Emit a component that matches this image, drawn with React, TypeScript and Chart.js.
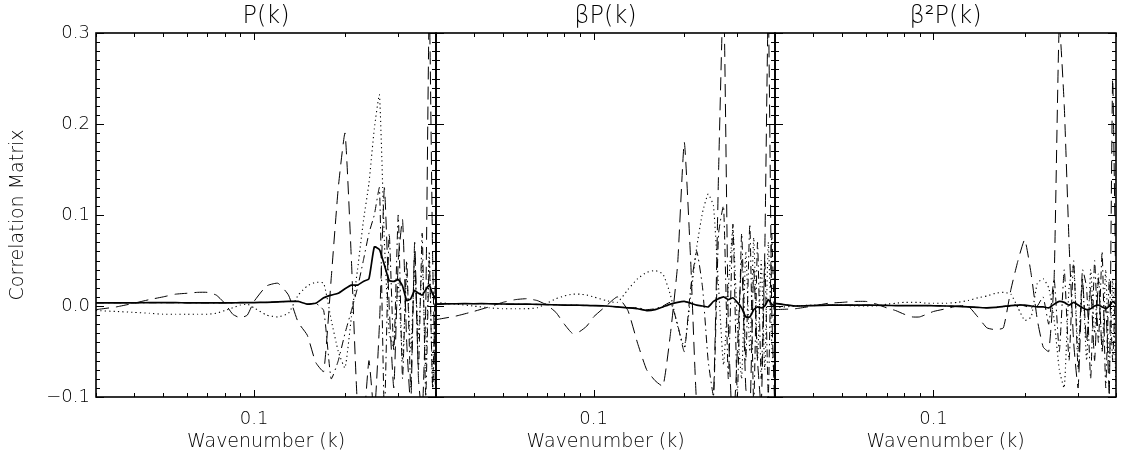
import React, { useEffect, useRef } from 'react';
import { Chart, registerables } from 'chart.js';

Chart.register(...registerables);

// Wavenumber grid (k)
const K = [0.030, 0.035, 0.040, 0.045, 0.050, 0.055, 0.060, 0.065, 0.070, 0.075, 0.080, 0.085, 0.090, 0.095, 0.100,
  0.110, 0.120, 0.130, 0.140, 0.150, 0.160, 0.170, 0.180, 0.190, 0.200, 0.210, 0.220, 0.230, 0.240, 0.250,
  0.260, 0.270, 0.280, 0.290, 0.300, 0.310, 0.320, 0.330, 0.340, 0.350, 0.360, 0.370, 0.380, 0.390, 0.400];

// Panel 1: P(k)
const P_SOLID = [0.0035, 0.0035, 0.0035, 0.0036, 0.0036, 0.0036, 0.0035, 0.0035, 0.0034, 0.0034, 0.0034, 0.0035, 0.0036, 0.0037, 0.0038,
  0.004, 0.0045, 0.005, 0.005, 0.002, 0.003, 0.009, 0.012, 0.014, 0.019, 0.023, 0.023, 0.027, 0.030, 0.065,
  0.062, 0.045, 0.028, 0.027, 0.029, 0.022, 0.006, 0.008, 0.017, 0.014, 0.012, 0.018, 0.023, 0.013, 0.008];
const P_DOT = [-0.005, -0.006, -0.007, -0.008, -0.009, -0.009, -0.009, -0.009, -0.009, -0.008, -0.005, -0.002, 0.001, 0.002, -0.002,
  -0.010, -0.012, -0.008, 0.012, 0.022, 0.026, 0.025, -0.015, -0.050, -0.068, -0.012, 0.040, 0.093, 0.135, 0.195,
  0.232, 0.070, -0.030, -0.045, 0.025, -0.060, 0.035, -0.050, 0.040, -0.035, 0.050, -0.070, 0.060, -0.090, 0.020];
const P_DASH = [-0.004, -0.001, 0.003, 0.007, 0.010, 0.013, 0.014, 0.015, 0.015, 0.012, 0.003, -0.009, -0.013, -0.010, 0.005,
  0.022, 0.025, 0.012, -0.018, -0.032, -0.062, -0.072, 0.030, 0.130, 0.190, 0.050, -0.110, -0.130, -0.060, -0.120,
  -0.020, 0.130, 0.000, -0.090, 0.050, 0.095, -0.040, -0.110, 0.070, -0.080, -0.120, 0.000, 0.330, 0.050, -0.120];
const P_DASHDOT = [0.0035, 0.0035, 0.0035, 0.0036, 0.0036, 0.0036, 0.0035, 0.0035, 0.0034, 0.0034, 0.0034, 0.0035, 0.0036, 0.0037, 0.0038,
  0.004, 0.0045, 0.005, 0.005, 0.002, 0.003, -0.005, -0.080, -0.060, -0.030, -0.005, 0.020, 0.050, 0.080, 0.100,
  0.130, -0.120, 0.080, -0.050, 0.100, -0.080, 0.050, -0.090, 0.060, -0.070, 0.080, -0.100, 0.050, -0.090, 0.070];

// Panel 2: beta P(k)
const BP_SOLID = [0.002, 0.0025, 0.0025, 0.0025, 0.0022, 0.002, 0.002, 0.0018, 0.0015, 0.0012, 0.001, 0.001, 0.0008, 0.0006, 0.0004,
  0.000, -0.001, -0.002, -0.003, -0.005, -0.004, -0.001, 0.002, 0.004, 0.005, 0.003, 0.001, 0.000, -0.001, 0.005,
  0.008, 0.010, 0.007, 0.009, 0.004, -0.002, -0.012, -0.012, -0.004, -0.001, -0.002, 0.000, 0.007, 0.002, 0.000];
const BP_DOT = [0.004, 0.002, 0.000, -0.002, -0.003, -0.003, -0.003, -0.002, 0.003, 0.008, 0.011, 0.013, 0.013, 0.012, 0.010,
  0.006, 0.004, 0.018, 0.030, 0.037, 0.039, 0.035, 0.012, -0.022, -0.045, 0.010, 0.065, 0.103, 0.123, 0.110,
  0.020, -0.065, 0.020, 0.085, -0.020, -0.080, 0.060, -0.050, 0.075, -0.060, 0.050, -0.070, 0.070, -0.040, -0.090];
const BP_DASH = [-0.015, -0.011, -0.006, -0.001, 0.004, 0.007, 0.008, 0.006, 0.001, -0.007, -0.020, -0.030, -0.028, -0.022, -0.012,
  0.000, 0.010, -0.005, -0.041, -0.070, -0.082, -0.088, -0.030, 0.045, 0.180, 0.050, -0.110, -0.130, -0.110, -0.100,
  0.150, 0.350, -0.020, -0.140, -0.050, 0.050, -0.090, -0.120, 0.040, -0.060, -0.110, 0.060, 0.330, 0.000, -0.120];
const BP_DASHDOT = [0.002, 0.0025, 0.0025, 0.0025, 0.0022, 0.002, 0.002, 0.0018, 0.0015, 0.0012, 0.001, 0.001, 0.0008, 0.0006, 0.0004,
  0.000, -0.001, -0.002, -0.002, -0.004, -0.003, 0.000, 0.004, -0.020, -0.050, 0.020, 0.060, 0.020, -0.060, -0.100,
  0.080, 0.110, -0.080, 0.090, -0.100, 0.080, -0.060, 0.090, -0.110, 0.070, -0.080, 0.050, -0.100, 0.080, -0.050];

// Panel 3: beta^2 P(k)
const B2P_SOLID = [0.003, 0.000, 0.0005, 0.001, 0.001, 0.001, 0.001, 0.0008, 0.0006, 0.0005, 0.0005, 0.0005, 0.0005, 0.0004, 0.0003,
  0.000, -0.0005, -0.001, -0.0015, -0.002, -0.0015, -0.0005, 0.0005, 0.001, 0.001, 0.000, -0.001, -0.001, -0.002, 0.002,
  0.005, 0.004, 0.001, 0.004, 0.001, -0.002, -0.004, -0.003, 0.000, 0.001, -0.001, -0.003, 0.000, 0.005, 0.002];
const B2P_DOT = [-0.002, 0.000, 0.001, 0.001, 0.001, 0.000, 0.000, 0.000, 0.002, 0.003, 0.004, 0.004, 0.004, 0.003, 0.003,
  0.003, 0.004, 0.006, 0.009, 0.011, 0.014, 0.015, 0.013, -0.002, -0.016, -0.012, 0.025, 0.030, 0.020, -0.015,
  -0.070, -0.090, 0.020, 0.045, -0.050, 0.030, -0.060, 0.040, -0.030, 0.035, -0.050, 0.040, -0.070, 0.030, -0.090];
const B2P_DASH = [-0.004, -0.003, 0.000, 0.003, 0.004, 0.005, 0.005, 0.002, -0.002, -0.005, -0.009, -0.012, -0.012, -0.009, -0.006,
  -0.003, 0.000, 0.000, -0.012, -0.024, -0.026, -0.024, 0.018, 0.050, 0.073, 0.035, -0.015, -0.045, -0.050, 0.030,
  0.310, 0.220, 0.070, -0.040, -0.090, 0.030, -0.040, 0.020, -0.060, 0.030, -0.050, 0.000, -0.100, 0.250, 0.000];
const B2P_DASHDOT = [0.003, 0.000, 0.0005, 0.001, 0.001, 0.001, 0.001, 0.0008, 0.0006, 0.0005, 0.0005, 0.0005, 0.0005, 0.0004, 0.0003,
  0.000, -0.0005, -0.001, -0.0015, -0.002, -0.0015, -0.0005, 0.000, 0.002, 0.000, -0.002, 0.000, 0.010, -0.020, 0.030,
  -0.050, 0.040, -0.060, 0.050, -0.070, 0.040, 0.020, -0.080, 0.050, -0.040, 0.060, -0.090, 0.030, -0.060, 0.040];

const PANEL_TITLES = ['P(k)', 'βP(k)', 'β²P(k)'];
const X_LABEL = 'Wavenumber (k)';
const Y_LABEL = 'Correlation Matrix';
const X_TICK_LABELS = [0.1];
const Y_TICK_LABELS = [-0.1, 0.0, 0.1, 0.2, 0.3];
const X_MINOR_TICKS = [0.03, 0.04, 0.05, 0.06, 0.07, 0.08, 0.09, 0.1, 0.2, 0.3, 0.4];
const X_MAJOR_TICKS = [0.1];

const X_MIN = 0.03;
const X_MAX = 0.4;
const Y_MIN = -0.1;
const Y_MAX = 0.3;

const W = 1125;
const H = 460;
const FONT = "'DejaVu Sans', 'Liberation Sans', sans-serif";
const WEIGHT = '200';
const INK = '#000';

const PANELS = [
  { title: PANEL_TITLES[0], left: 96, right: 436, showY: true, series: [P_SOLID, P_DOT, P_DASH, P_DASHDOT] },
  { title: PANEL_TITLES[1], left: 436, right: 775, showY: false, series: [BP_SOLID, BP_DOT, BP_DASH, BP_DASHDOT] },
  { title: PANEL_TITLES[2], left: 775, right: 1116, showY: false, series: [B2P_SOLID, B2P_DOT, B2P_DASH, B2P_DASHDOT] },
];

const STYLES = [
  { borderWidth: 1.7, borderDash: [] as number[] },
  { borderWidth: 1.1, borderDash: [1.2, 3.2] },
  { borderWidth: 1.0, borderDash: [13, 7] },
  { borderWidth: 1.0, borderDash: [8, 4, 1.5, 4] },
];

const framePlugin = {
  id: 'idlFrame',
  afterDatasetsDraw(chart: any) {
    const { ctx, chartArea: a, scales } = chart;
    const xs = scales.x;
    const ys = scales.y;
    ctx.save();
    ctx.strokeStyle = '#000';
    ctx.lineWidth = 1;
    ctx.beginPath();
    for (let i = Math.round(Y_MIN * 100); i <= Math.round(Y_MAX * 100); i++) {
      const py = Math.round(ys.getPixelForValue(i / 100)) + 0.5;
      const len = i % 10 === 0 ? 8 : 4;
      ctx.moveTo(a.left, py);
      ctx.lineTo(a.left + len, py);
      ctx.moveTo(a.right, py);
      ctx.lineTo(a.right - len, py);
    }
    for (const v of X_MINOR_TICKS) {
      const px = Math.round(xs.getPixelForValue(v)) + 0.5;
      const len = X_MAJOR_TICKS.includes(v) ? 7 : 4;
      ctx.moveTo(px, a.bottom);
      ctx.lineTo(px, a.bottom - len);
      ctx.moveTo(px, a.top);
      ctx.lineTo(px, a.top + len);
    }
    ctx.stroke();
    ctx.lineWidth = 1.6;
    ctx.strokeRect(a.left, a.top, a.right - a.left, a.bottom - a.top);
    ctx.restore();
  },
};

function buildChart(canvas: HTMLCanvasElement, panel: typeof PANELS[number]) {
  const datasets = panel.series.map((vals, si) => ({
    data: K.map((k, i) => ({ x: k, y: vals[i] })),
    borderColor: '#000',
    borderWidth: STYLES[si].borderWidth,
    borderDash: STYLES[si].borderDash,
    pointRadius: 0,
    tension: 0.15,
    fill: false,
    clip: 0,
  }));
  // draw solid last so it sits on top
  const ordered = [datasets[1], datasets[2], datasets[3], datasets[0]];

  return new Chart(canvas, {
    type: 'line',
    data: { datasets: ordered },
    plugins: [framePlugin],
    options: {
      animation: false,
      responsive: false,
      maintainAspectRatio: false,
      events: [],
      layout: {
        padding: { left: panel.showY ? 0 : panel.left, right: W - panel.right, top: 0, bottom: 0 },
      },
      plugins: { legend: { display: false }, tooltip: { enabled: false }, title: { display: false } },
      scales: {
        x: {
          type: 'logarithmic',
          position: 'bottom',
          min: X_MIN,
          max: X_MAX,
          afterBuildTicks: (s: any) => { s.ticks = X_TICK_LABELS.map((v) => ({ value: v })); },
          ticks: {
            callback: (v: any) => Number(v).toFixed(1),
            font: { family: FONT, size: 18, weight: WEIGHT },
            color: INK,
            padding: 12,
            autoSkip: false,
            maxRotation: 0,
          },
          grid: { display: false, drawTicks: false },
          border: { display: false },
          title: { display: true, text: X_LABEL, font: { family: FONT, size: 19, weight: WEIGHT }, color: INK, padding: { top: 0, bottom: 7 } },
          afterFit: (s: any) => { s.height = 63; },
        },
        xTop: {
          type: 'logarithmic',
          position: 'top',
          min: X_MIN,
          max: X_MAX,
          ticks: { display: false },
          grid: { display: false, drawTicks: false },
          border: { display: false },
          title: { display: true, text: panel.title, font: { family: FONT, size: 24, weight: WEIGHT }, color: INK, padding: { top: 2, bottom: 0 } },
          afterFit: (s: any) => { s.height = 33; },
        },
        y: {
          display: panel.showY,
          min: Y_MIN,
          max: Y_MAX,
          afterBuildTicks: (s: any) => { s.ticks = Y_TICK_LABELS.map((v) => ({ value: v })); },
          ticks: {
            callback: (v: any) => Number(v).toFixed(1).replace('-', '\u2212'),
            font: { family: FONT, size: 18, weight: WEIGHT },
            color: INK,
            padding: 6,
          },
          grid: { display: false, drawTicks: false },
          border: { display: false },
          title: { display: true, text: Y_LABEL, font: { family: FONT, size: 19, weight: WEIGHT }, color: INK, padding: { top: 7, bottom: 0 } },
          afterFit: (s: any) => { if (panel.showY) s.width = 96; },
        },
      },
    } as any,
  });
}

function Panel({ index }: { index: number }) {
  const ref = useRef<HTMLCanvasElement | null>(null);
  useEffect(() => {
    if (!ref.current) return;
    const chart = buildChart(ref.current, PANELS[index]);
    return () => chart.destroy();
  }, [index]);
  return (
    <canvas
      ref={ref}
      width={W}
      height={H}
      style={{ position: 'absolute', left: 0, top: 0, width: W, height: H }}
    />
  );
}

export default function App() {
  return (
    <div style={{ position: 'absolute', left: 0, top: 0, width: W, height: H, background: '#fff', overflow: 'hidden' }}>
      {PANELS.map((_, i) => (
        <Panel key={i} index={i} />
      ))}
    </div>
  );
}
